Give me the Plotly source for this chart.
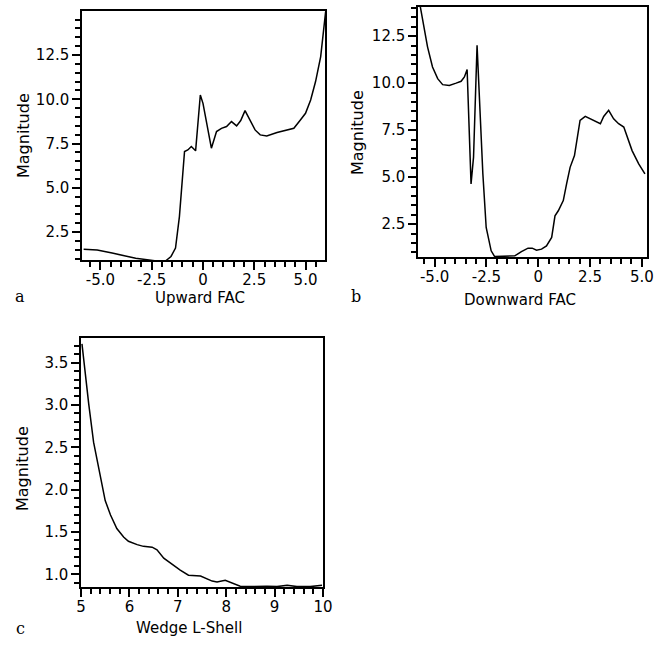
import plotly.graph_objects as go

# Panel a: Upward FAC
up_x = [-5.82, -5.16, -4.43, -3.28, -2.30, -1.80, -1.56, -1.34, -1.15, -0.90, -0.74, -0.57, -0.36,
        -0.13, 0.0, 0.41, 0.66, 0.90, 1.15, 1.39, 1.64, 1.84, 2.05, 2.30, 2.54, 2.79, 3.11, 3.61,
        4.10, 4.43, 4.75, 5.0, 5.25, 5.49, 5.74, 5.90, 5.98]
up_y = [1.54, 1.50, 1.32, 1.03, 0.88, 0.90, 1.13, 1.60, 3.38, 7.05, 7.14, 7.33, 7.09,
        10.24, 9.77, 7.24, 8.18, 8.36, 8.46, 8.74, 8.50, 8.80, 9.36, 8.83, 8.27, 7.99, 7.93, 8.12,
        8.27, 8.36, 8.83, 9.21, 9.96, 11.0, 12.41, 14.29, 14.94]

# Panel b: Downward FAC
down_x = [-5.69, -5.50, -5.34, -5.10, -4.85, -4.61, -4.29, -3.96, -3.72, -3.56, -3.43, -3.24, -3.12,
          -2.95, -2.83, -2.67, -2.51, -2.27, -2.10, -1.46, -1.13, -0.81, -0.49, -0.29, -0.08, 0.16,
          0.40, 0.65, 0.81, 0.97, 1.21, 1.37, 1.54, 1.75, 1.86, 2.02, 2.27, 2.59, 3.0, 3.16, 3.40,
          3.64, 3.88, 4.13, 4.29, 4.53, 4.85, 5.15]
down_y = [14.07, 12.82, 11.93, 10.86, 10.24, 9.92, 9.88, 10.0, 10.1, 10.33, 10.72, 4.64, 6.06,
          12.02, 8.73, 5.17, 2.32, 1.08, 0.77, 0.77, 0.81, 1.04, 1.22, 1.22, 1.11, 1.17,
          1.34, 1.79, 2.94, 3.21, 3.75, 4.64, 5.52, 6.15, 6.95, 8.02, 8.23, 8.05, 7.84, 8.23, 8.55,
          8.1, 7.84, 7.66, 7.13, 6.41, 5.7, 5.17]

# Panel c: Wedge L-Shell
l_x = [5.02, 5.09, 5.16, 5.26, 5.37, 5.5, 5.61, 5.74, 5.88, 5.98, 6.16, 6.29, 6.47, 6.57, 6.71,
       6.85, 7.05, 7.22, 7.47, 7.71, 7.81, 7.98, 8.15, 8.29, 8.57, 8.84, 9.05, 9.26, 9.46, 9.74, 9.98]
l_y = [3.72, 3.34, 3.01, 2.56, 2.25, 1.87, 1.70, 1.54, 1.44, 1.39, 1.35, 1.33, 1.32, 1.29, 1.19,
       1.13, 1.05, 0.99, 0.98, 0.92, 0.91, 0.93, 0.89, 0.86, 0.855, 0.86, 0.855, 0.87, 0.855, 0.855, 0.87]

# tick label text (plotly default text -> shown text)
fac_alias = {"\u22125": "-5.0", "-5": "-5.0", "\u22122.5": "-2.5", "-2.5": "-2.5", "5": "5.0"}
mag_alias = {"5": "5.0", "10": "10.0"}
lmag_alias = {"1": "1.0", "2": "2.0", "3": "3.0"}

W, H = 656, 647
def dx(a, b):
    return [a / W, b / W]
def dy(top, bot):
    return [1 - bot / H, 1 - top / H]

fig = go.Figure()
line = dict(color="black", width=1.5)
fig.add_trace(go.Scatter(x=up_x, y=up_y, mode="lines", line=line, xaxis="x", yaxis="y", showlegend=False))
fig.add_trace(go.Scatter(x=down_x, y=down_y, mode="lines", line=line, xaxis="x2", yaxis="y2", showlegend=False))
fig.add_trace(go.Scatter(x=l_x, y=l_y, mode="lines", line=line, xaxis="x3", yaxis="y3", showlegend=False))

tickfont = dict(family="DejaVu Sans", size=15, color="black")

def ax(domain, rng, dtick, alias, anchor, is_x, minor_dtick):
    d = dict(domain=domain, range=rng, tickmode="linear", tick0=0, dtick=dtick,
             labelalias=alias, ticklabeloverflow="allow",
             ticks="outside", ticklen=8, tickwidth=2, tickcolor="#000000",
             minor=dict(dtick=minor_dtick, tick0=0, ticks="outside", ticklen=5,
                        tickwidth=1.5, tickcolor="#000000"),
             showline=True, linecolor="black", linewidth=1.5, mirror=True,
             showgrid=False, zeroline=False, tickfont=tickfont, anchor=anchor,
             automargin=False)
    if is_x:
        d["ticklabelstandoff"] = -3
    return d

fig.update_layout(
    template="none",
    width=W, height=H, margin=dict(l=0, r=0, t=0, b=0),
    paper_bgcolor="white", plot_bgcolor="white",
    xaxis=ax(dx(82, 325), [-5.9, 5.95], 2.5, fac_alias, "y", True, 0.5),
    yaxis=ax(dy(11, 260), [0.93, 14.98], 2.5, mag_alias, "x", False, 0.5),
    xaxis2=ax(dx(418, 647), [-5.8, 5.25], 2.5, fac_alias, "y2", True, 0.5),
    yaxis2=ax(dy(7, 257), [0.75, 14.05], 2.5, mag_alias, "x2", False, 0.5),
    xaxis3=ax(dx(81, 323), [5, 10], 1, {}, "y3", True, 0.2),
    yaxis3=ax(dy(338, 587), [0.85, 3.79], 0.5, lmag_alias, "x3", False, 0.1),
)

titlefont = dict(family="DejaVu Sans", size=15, color="black")
ytitlefont = dict(family="DejaVu Sans", size=16, color="black")
letterfont = dict(family="DejaVu Serif", size=16, color="black")
def ann(text, x, y, font, angle=0):
    fig.add_annotation(text=text, x=x / W, y=1 - y / H, xref="paper", yref="paper",
                       showarrow=False, font=font, textangle=angle,
                       xanchor="center", yanchor="middle")

ann("Upward FAC", 200, 298, titlefont)
ann("Downward FAC", 520, 300, titlefont)
ann("Wedge L-Shell", 189, 628, titlefont)
ann("Magnitude", 23, 136, ytitlefont, -90)
ann("Magnitude", 358, 133, ytitlefont, -90)
ann("Magnitude", 23, 469, ytitlefont, -90)
ann("a", 20, 296, letterfont)
ann("b", 356, 296, letterfont)
ann("c", 20, 628, letterfont)

fig.write_html("out.html", config={"displayModeBar": False},
               post_script="document.body.style.margin='0px';")
